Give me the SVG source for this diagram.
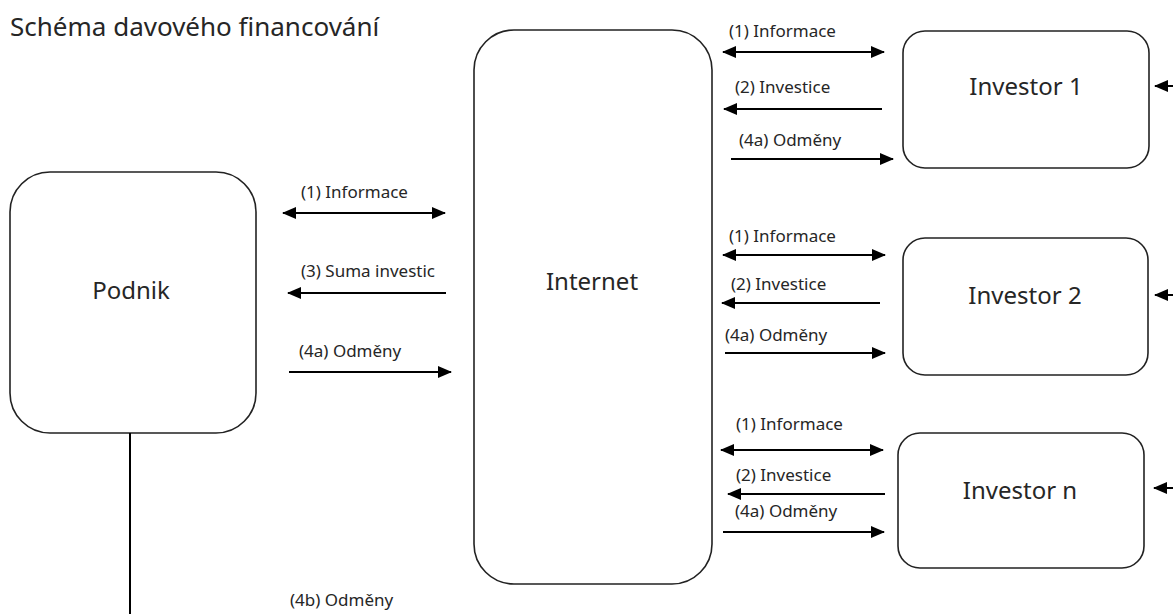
<svg xmlns="http://www.w3.org/2000/svg" width="1173" height="614" viewBox="0 0 1173 614">
<defs>
<marker id="ah" viewBox="0 0 14 12" refX="13" refY="6" markerWidth="14" markerHeight="12" markerUnits="userSpaceOnUse" orient="auto-start-reverse">
<path d="M0,0 L14,6 L0,12 Z" fill="#000"/>
</marker>
<style>
.box{fill:#fff;stroke:#222;stroke-width:1.6}
.big{font-family:"Noto Sans","Open Sans",sans-serif;font-size:24px;fill:#262626;text-anchor:middle}
.lbl{font-family:"Noto Sans","Open Sans",sans-serif;font-size:17px;fill:#262626}
.title{font-family:"Noto Sans","Open Sans",sans-serif;font-size:26px;fill:#262626}
.c{stroke:#000;stroke-width:2;fill:none}
.one{marker-end:url(#ah)}
.two{marker-start:url(#ah);marker-end:url(#ah)}
</style>
</defs>
<rect width="1173" height="614" fill="#fff"/>
<text class="title" x="10" y="36">Schéma davového financování</text>

<g id="podnik">
<rect class="box" x="10" y="172" width="246" height="261" rx="40" ry="40"/>
<text class="big" x="131" y="299">Podnik</text>
</g>
<g id="internet">
<rect class="box" x="474" y="30" width="238" height="554" rx="40" ry="40"/>
<text class="big" x="592" y="290">Internet</text>
</g>
<g id="investor1">
<rect class="box" x="903" y="31" width="246" height="137" rx="22" ry="22"/>
<text class="big" x="1026" y="95">Investor 1</text>
</g>
<g id="investor2">
<rect class="box" x="903" y="238" width="245" height="137" rx="22" ry="22"/>
<text class="big" x="1025" y="304">Investor 2</text>
</g>
<g id="investorn">
<rect class="box" x="898" y="433" width="246" height="135" rx="22" ry="22"/>
<text class="big" x="1020" y="499">Investor n</text>
</g>

<g id="connectors">
<line class="c two" x1="283" y1="213" x2="445" y2="213"/>
<line class="c one" x1="446" y1="293" x2="288" y2="293"/>
<line class="c one" x1="289" y1="372" x2="451" y2="372"/>
<line class="c" x1="130" y1="433" x2="130" y2="614"/>

<line class="c two" x1="723" y1="52" x2="884" y2="52"/>
<line class="c one" x1="882" y1="109" x2="724" y2="109"/>
<line class="c one" x1="731" y1="159" x2="893" y2="159"/>
<line class="c one" x1="1180" y1="86" x2="1155" y2="86"/>

<line class="c two" x1="723" y1="255" x2="885" y2="255"/>
<line class="c one" x1="880" y1="303" x2="722" y2="303"/>
<line class="c one" x1="725" y1="353" x2="885" y2="353"/>
<line class="c one" x1="1180" y1="295" x2="1155" y2="295"/>

<line class="c two" x1="721" y1="450" x2="883" y2="450"/>
<line class="c one" x1="885" y1="494" x2="728" y2="494"/>
<line class="c one" x1="723" y1="532" x2="884" y2="532"/>
<line class="c one" x1="1180" y1="488" x2="1154" y2="488"/>
</g>

<g id="labels">
<text class="lbl" x="301" y="198">(1) Informace</text>
<text class="lbl" x="301" y="277">(3) Suma investic</text>
<text class="lbl" x="299" y="357">(4a) Odměny</text>
<text class="lbl" x="290" y="606">(4b) Odměny</text>
<text class="lbl" x="729" y="37">(1) Informace</text>
<text class="lbl" x="735" y="93">(2) Investice</text>
<text class="lbl" x="739" y="146">(4a) Odměny</text>
<text class="lbl" x="729" y="242">(1) Informace</text>
<text class="lbl" x="731" y="290">(2) Investice</text>
<text class="lbl" x="725" y="341">(4a) Odměny</text>
<text class="lbl" x="736" y="430">(1) Informace</text>
<text class="lbl" x="736" y="481">(2) Investice</text>
<text class="lbl" x="735" y="517">(4a) Odměny</text>
</g>
</svg>
